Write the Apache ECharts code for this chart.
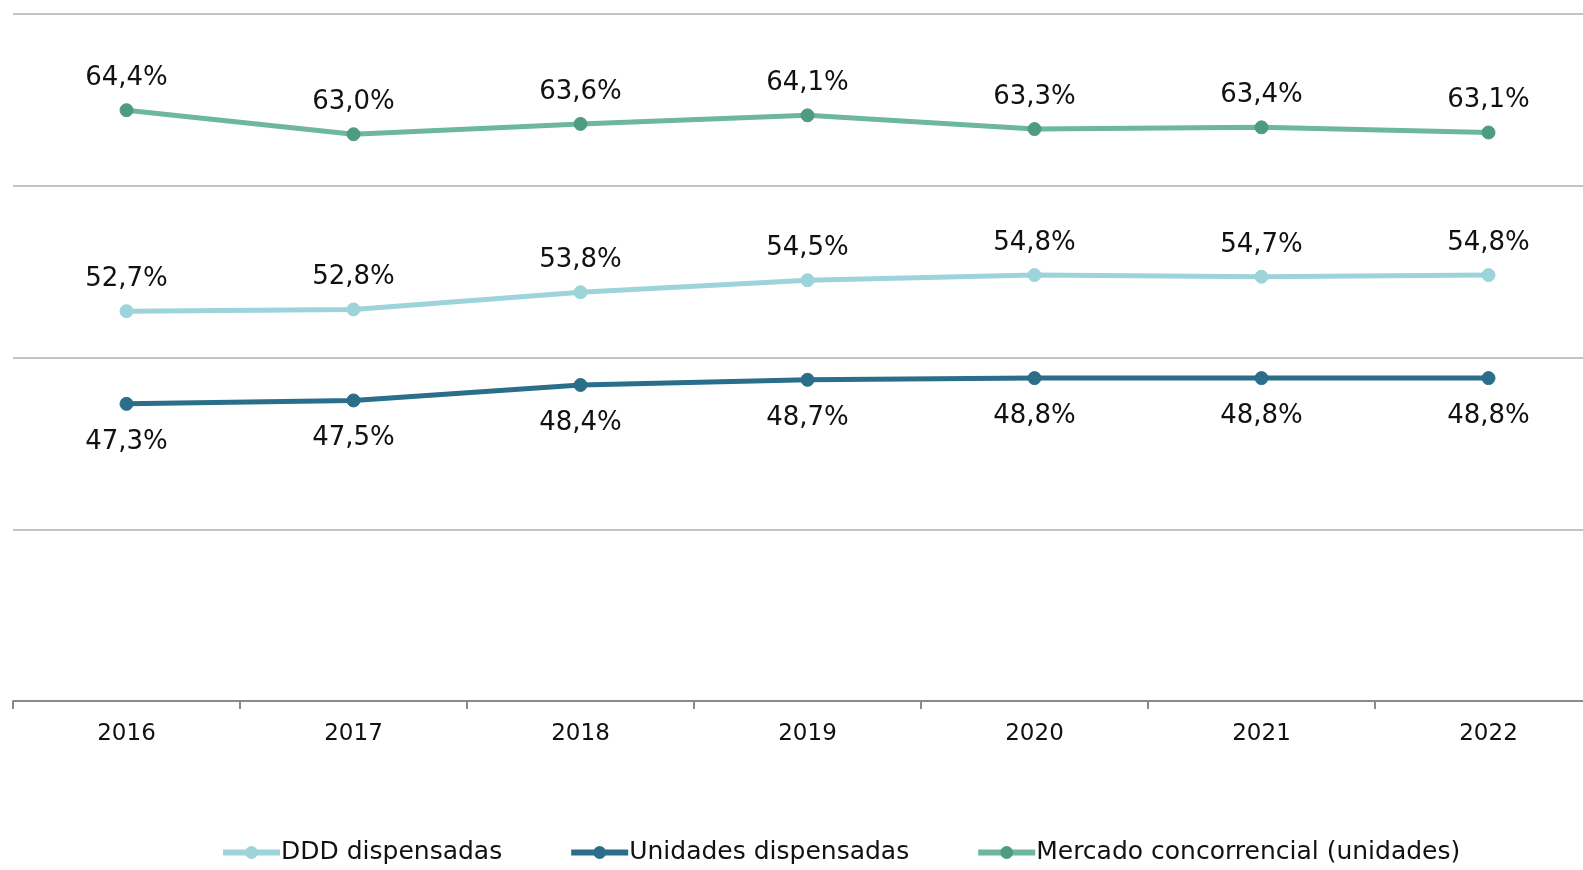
<!DOCTYPE html>
<html>
<head>
<meta charset="utf-8">
<script src="https://cdn.jsdelivr.net/npm/echarts@6/dist/echarts.min.js"></script>
<style>html,body{margin:0;padding:0;background:#fff}#c{width:1583px;height:870px}</style>
</head>
<body>
<div id="c"></div>
<script>
const years = ['2016','2017','2018','2019','2020','2021','2022'];
const ddd = [52.7, 52.8, 53.8, 54.5, 54.8, 54.7, 54.8];
const unidades = [47.3, 47.5, 48.4, 48.7, 48.8, 48.8, 48.8];
const mercado = [64.4, 63.0, 63.6, 64.1, 63.3, 63.4, 63.1];
const names = ['DDD dispensadas', 'Unidades dispensadas', 'Mercado concorrencial (unidades)'];

const FONT = '"DejaVu Sans", sans-serif';
const fmt = p => p.value.toFixed(1).replace('.', ',') + '%';

function mk(name, data, color, markColor, pos, dist) {
  return {
    name, type: 'line', data,
    symbol: 'circle', symbolSize: 13,
    lineStyle: { color, width: 5 },
    itemStyle: { color: markColor, borderColor: markColor },
    label: { show: true, position: pos, distance: dist, formatter: fmt,
      fontFamily: FONT, fontSize: 26, color: '#111' },
    emphasis: { disabled: true },
    animation: false
  };
}

const chart = echarts.init(document.getElementById('c'));
chart.setOption({
  animation: false,
  grid: { left: 13, top: 14, width: 1589, height: 687, outerBoundsMode: 'none' },
  legend: {
    data: names, left: 215, top: 835, itemGap: 66, itemWidth: 57, itemHeight: 16,
    lineStyle: { width: 6 },
    textStyle: { fontFamily: FONT, fontSize: 25, color: '#111', padding: [0,0,0,-4] }
  },
  xAxis: {
    type: 'category', data: years, boundaryGap: true,
    axisLine: { lineStyle: { color: '#8a8a8a', width: 2 } },
    axisTick: { show: true, length: 8, lineStyle: { color: '#8a8a8a', width: 2 } },
    axisLabel: { fontFamily: FONT, fontSize: 23, color: '#111', margin: 22 }
  },
  yAxis: {
    type: 'value', min: 30, max: 70, interval: 10,
    axisLabel: { show: false }, axisLine: { show: false }, axisTick: { show: false },
    splitLine: { lineStyle: { color: '#c3c3c3', width: 2 } }
  },
  series: [
    mk(names[0], ddd, '#9dd3da', '#9dd3da', 'top', 12),
    mk(names[1], unidades, '#2a6e89', '#2a6e89', 'bottom', 18),
    mk(names[2], mercado, '#6cb79d', '#4e9c80', 'top', 12)
  ]
});
</script>
</body>
</html>
